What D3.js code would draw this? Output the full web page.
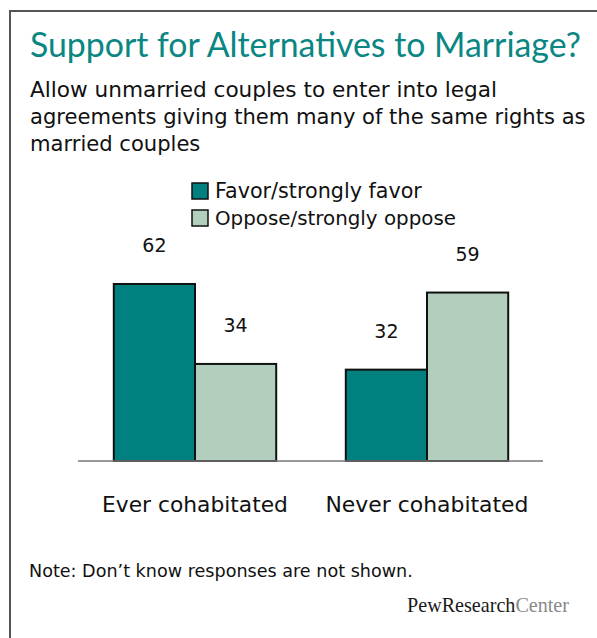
<!DOCTYPE html>
<html>
<head>
<meta charset="utf-8">
<script src="https://cdn.jsdelivr.net/npm/d3@7"></script>
<style>
  body { margin: 0; background: #fff; }
  svg { display: block; font-family: "DejaVu Sans", sans-serif; }
</style>
</head>
<body>
<div id="chart"></div>
<script>
// data
const groups = ["Ever cohabitated", "Never cohabitated"];
const seriesNames = ["Favor/strongly favor", "Oppose/strongly oppose"];
const favor = [62, 32];
const oppose = [34, 59];
const colors = ["#00807f", "#b2cfbd"];

const W = 597, H = 638;

const svg = d3.select("#chart").append("svg")
    .attr("width", W)
    .attr("height", H);

// shrink / grow the font so a text spans the width it has in the picture
function fit(sel, w) {
    const size = parseFloat(sel.attr("font-size"));
    const len = sel.node().getComputedTextLength();
    sel.attr("font-size", (size * w / len).toFixed(2));
    return sel;
}

// frame (only left and top edges are inside the picture)
svg.append("rect")
    .attr("x", 10).attr("y", 11)
    .attr("width", 620).attr("height", 660)
    .attr("fill", "none")
    .attr("stroke", "#555")
    .attr("stroke-width", 2);

fit(svg.append("text")
    .attr("x", 30).attr("y", 57)
    .attr("font-family", "Lato, 'Open Sans', sans-serif")
    .attr("font-size", 28)
    .attr("fill", "#0a8683")
    .text("Support for Alternatives to Marriage?"), 551);

const sub = [
    ["Allow unmarried couples to enter into legal", 467],
    ["agreements giving them many of the same rights as", 556],
    ["married couples", null]
];
let subSize = 19;
sub.forEach((s, i) => {
    const t = svg.append("text")
        .attr("x", 30).attr("y", 97 + i * 27)
        .attr("font-size", subSize)
        .attr("fill", "#111")
        .text(s[0]);
    if (s[1]) { fit(t, s[1]); subSize = +t.attr("font-size"); }
    else t.attr("font-size", subSize);
});

// scales
const x = d3.scaleBand()
    .domain(groups)
    .range([79, 543])
    .paddingInner(0.3)
    .paddingOuter(0.15);

const x1 = d3.scaleBand()
    .domain(seriesNames)
    .range([0, x.bandwidth()]);

const y = d3.scaleLinear()
    .domain([0, 100])
    .range([461, 175.5]);

const rows = groups.map((g, i) => ({
    group: g,
    values: [
        {name: seriesNames[0], value: favor[i]},
        {name: seriesNames[1], value: oppose[i]}
    ]
}));

const g = svg.selectAll("g.grp")
    .data(rows)
    .enter().append("g")
    .attr("class", "grp")
    .attr("transform", d => `translate(${x(d.group)},0)`);

g.selectAll("rect")
    .data(d => d.values)
    .enter().append("rect")
    .attr("x", d => x1(d.name))
    .attr("y", d => y(d.value))
    .attr("width", x1.bandwidth())
    .attr("height", d => y(0) - y(d.value))
    .attr("fill", (d, i) => colors[i])
    .attr("stroke", "#111")
    .attr("stroke-width", 2);

g.selectAll("text.val")
    .data(d => d.values)
    .enter().append("text")
    .attr("class", "val")
    .attr("x", d => x1(d.name) + x1.bandwidth() / 2)
    .attr("y", d => y(d.value) - 32)
    .attr("text-anchor", "middle")
    .attr("font-size", 19)
    .attr("fill", "#111")
    .text(d => d.value);

// baseline
svg.append("line")
    .attr("x1", 78).attr("x2", 543)
    .attr("y1", y(0)).attr("y2", y(0))
    .attr("stroke", "#777")
    .attr("stroke-width", 1.5);

// category labels
const catW = [186, 203];
svg.selectAll("text.cat")
    .data(groups)
    .enter().append("text")
    .attr("class", "cat")
    .attr("x", d => x(d) + x.bandwidth() / 2)
    .attr("y", 512)
    .attr("text-anchor", "middle")
    .attr("font-size", 19)
    .attr("fill", "#111")
    .text(d => d)
    .each(function (d, i) { fit(d3.select(this), catW[i]); });

// legend
const legW = [207, 241];
const leg = svg.selectAll("g.leg")
    .data(seriesNames)
    .enter().append("g")
    .attr("class", "leg")
    .attr("transform", (d, i) => `translate(192,${183 + i * 27})`);

leg.append("rect")
    .attr("width", 16).attr("height", 16)
    .attr("fill", (d, i) => colors[i])
    .attr("stroke", "#111")
    .attr("stroke-width", 1.5);

leg.append("text")
    .attr("x", 23).attr("y", 15)
    .attr("font-size", 17)
    .attr("fill", "#111")
    .text(d => d)
    .each(function (d, i) { fit(d3.select(this), legW[i]); });

// note
fit(svg.append("text")
    .attr("x", 29).attr("y", 577)
    .attr("font-size", 19)
    .attr("fill", "#111")
    .text("Note: Don\u2019t know responses are not shown."), 384);

// source logo
const logo = svg.append("text")
    .attr("x", 569).attr("y", 612)
    .attr("text-anchor", "end")
    .attr("font-family", "'Liberation Serif', serif")
    .attr("font-size", 20);
logo.append("tspan").attr("fill", "#1a1a1a").text("PewResearch");
logo.append("tspan").attr("fill", "#888").text("Center");
fit(logo, 162);
</script>
</body>
</html>
